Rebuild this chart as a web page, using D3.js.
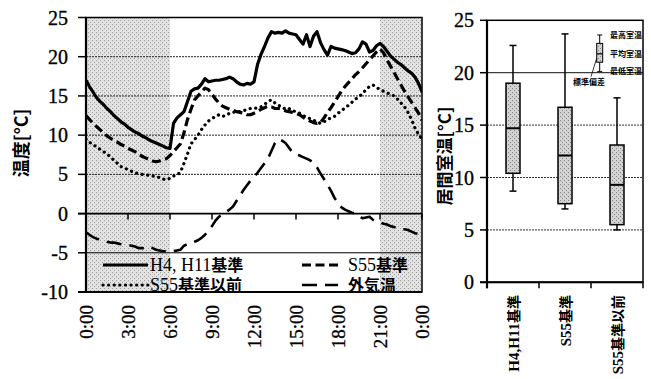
<!DOCTYPE html>
<html><head><meta charset="utf-8">
<script src="https://cdn.jsdelivr.net/npm/d3@7"></script>
<style>body{margin:0;background:#fff}svg{display:block}</style>
</head><body>
<svg id="c" width="651" height="379"></svg>
<script>
// ---------- data ----------
const hours = d3.range(97).map(i => i * 0.25); // 15-minute time grid, 0:00..24:00
const h4h11 = [17.0,16.2,15.5,14.8,14.3,13.9,13.4,13.0,12.5,12.1,11.7,11.4,11.0,10.7,10.4,10.2,9.9,9.7,9.4,9.2,9.0,8.8,8.6,8.4,8.3,
  11.5,12.2,12.6,13.0,14.3,15.6,15.9,16.0,16.5,17.2,16.8,16.9,17.0,17.0,17.1,17.2,17.4,17.2,16.8,16.5,16.4,16.6,16.5,16.8,
  19.0,20.3,21.3,22.4,23.2,23.0,23.1,23.0,23.3,23.0,22.9,22.8,22.2,21.6,22.8,21.3,22.6,23.2,21.8,20.9,20.2,21.3,21.1,21.0,
  20.9,20.8,20.6,20.4,20.5,21.0,21.9,21.6,20.6,20.8,21.4,21.7,21.3,20.7,20.1,19.7,19.3,19.0,18.6,18.2,17.9,17.4,16.6,15.5];
const s55 = [12.5,12.0,11.5,11.1,10.7,10.3,9.9,9.6,9.3,9.1,8.8,8.6,8.3,8.1,7.9,7.6,7.3,7.1,6.9,6.7,6.6,6.7,6.9,7.0,7.4,
  7.9,8.4,8.9,10.3,12.0,13.3,14.5,15.0,15.5,16.0,15.8,15.2,14.6,14.1,13.7,13.5,13.3,13.2,13.0,12.9,12.8,12.6,12.6,12.8,
  13.0,13.3,13.5,13.7,13.6,13.4,13.4,13.3,13.1,13.0,12.9,12.8,12.6,12.3,12.0,11.8,11.6,11.5,11.6,12.2,12.9,13.5,14.2,14.9,
  15.6,16.2,16.7,17.2,17.7,18.1,18.6,19.1,19.6,20.1,20.6,21.0,20.5,19.6,18.8,18.0,17.2,16.4,15.6,14.9,14.2,13.5,12.8,11.9];
const s55Before = [9.5,9.1,8.8,8.5,8.2,7.9,7.6,7.2,6.8,6.4,6.0,5.8,5.6,5.4,5.2,5.1,5.0,4.9,4.9,4.8,4.7,4.6,4.4,4.3,4.5,
  4.8,4.9,5.3,6.4,7.6,8.9,9.4,10.0,10.7,11.3,11.8,12.1,12.4,12.6,12.4,12.5,12.8,12.9,13.0,13.0,13.1,13.3,13.4,13.4,
  13.5,13.6,13.9,14.3,14.5,14.1,13.8,13.6,13.3,13.4,13.1,13.0,12.8,12.5,12.3,12.1,11.9,11.7,11.5,11.7,12.0,12.2,12.4,12.8,
  13.1,13.5,13.8,14.2,14.6,14.9,15.3,15.8,16.2,16.4,16.1,15.8,15.6,15.4,15.2,15.0,14.6,14.1,13.6,12.9,12.0,10.9,10.1,9.5];
const outdoor = [-2.4,-2.7,-3.0,-3.2,-3.3,-3.4,-3.6,-3.7,-3.7,-3.8,-3.9,-4.0,-4.0,-4.1,-4.2,-4.4,-4.4,-4.5,-4.3,-4.4,-4.6,-4.7,-4.8,-4.8,-4.8,
  -4.8,-4.7,-4.6,-4.1,-3.9,-3.8,-3.6,-3.4,-3.1,-2.7,-2.2,-1.6,-0.9,-0.4,-0.1,0.2,0.5,0.9,1.6,2.3,3.0,3.6,4.2,4.7,
  5.2,5.8,6.4,7.0,8.0,9.0,9.5,9.3,9.0,8.4,7.8,7.6,7.4,7.2,7.0,6.8,6.5,5.9,5.1,4.4,3.7,2.9,2.0,1.3,
  0.8,0.5,0.3,0.1,0.0,-0.3,-0.6,-0.5,-0.4,-0.8,-1.0,-1.1,-1.3,-1.4,-1.6,-1.7,-1.9,-2.0,-2.0,-2.1,-2.3,-2.5,-2.6,-2.7];
const seriesNames = ["H4, H11基準", "S55基準", "S55基準以前", "外気温"];
const hourTicks = [0, 3, 6, 9, 12, 15, 18, 21, 24];
const hourLabels = ["0:00","3:00","6:00","9:00","12:00","15:00","18:00","21:00","0:00"];
const leftYTicks = [25, 20, 15, 10, 5, 0, -5, -10];
const shadedPeriods = [[0, 6], [21, 24]];

const boxCategories = ["H4,H11基準", "S55基準", "S55基準以前"];
const boxMax  = [22.6, 23.7, 17.6];
const boxUpper = [19.0, 16.7, 13.1];
const boxMean = [14.7, 12.1, 9.3];
const boxLower = [10.4, 7.5, 5.5];
const boxMin  = [8.7, 7.0, 5.0];
const rightYTicks = [0, 5, 10, 15, 20, 25];
const keyValues = [23.6, 22.8, 21.8, 21.0, 20.1]; // inset key glyph: max, upper, mean, lower, min
const keyLabels = ["最高室温", "平均室温", "最低室温", "標準偏差"];

// ---------- helpers ----------
const svg = d3.select("#c");
const isCJK = ch => /[\u3000-\u9fff\uff00-\uffef]/.test(ch);
function mixed(sel, str, o) {
  const runs = [];
  for (const ch of str) {
    const c = isCJK(ch);
    if (runs.length && runs[runs.length - 1].c === c) runs[runs.length - 1].t += ch;
    else runs.push({ c, t: ch });
  }
  runs.forEach(r => sel.append("tspan").text(r.t)
    .attr("font-family", r.c ? "'Noto Sans CJK JP'" : "'Liberation Serif'")
    .attr("font-weight", r.c ? "bold" : (o.latinWeight || "normal"))
    .attr("font-size", r.c ? o.cjk : o.latin));
  return sel;
}
const defs = svg.append("defs");
function stipple(id, base, dot) {
  const p = defs.append("pattern").attr("id", id).attr("width", 4).attr("height", 4).attr("patternUnits", "userSpaceOnUse");
  p.append("rect").attr("width", 4).attr("height", 4).attr("fill", base);
  p.append("rect").attr("x", 0).attr("y", 0).attr("width", 1).attr("height", 1).attr("fill", dot);
  p.append("rect").attr("x", 2).attr("y", 2).attr("width", 1).attr("height", 1).attr("fill", dot);
}
stipple("shade", "#e2e2e2", "#9a9a9a");
stipple("boxfill", "#d2d2d2", "#858585");

// ---------- left chart ----------
const L = { x0: 86, x1: 422, y0: 17.5, y1: 292 };
const x = d3.scaleLinear().domain([0, 24]).range([L.x0, L.x1]);
const y = d3.scaleLinear().domain([-10, 25]).range([L.y1, L.y0]);

svg.append("g").selectAll("rect").data(shadedPeriods).join("rect")
  .attr("x", d => x(d[0])).attr("width", d => x(d[1]) - x(d[0]))
  .attr("y", L.y0).attr("height", L.y1 - L.y0).attr("fill", "url(#shade)");

// grid
svg.append("g").selectAll("line").data(leftYTicks.filter(v => v !== 25 && v !== 0 && v !== -10)).join("line")
  .attr("x1", L.x0).attr("x2", L.x1).attr("y1", d => y(d)).attr("y2", d => y(d))
  .attr("stroke", d => d === -5 ? "#000" : "#222").attr("stroke-width", 1)
  .attr("stroke-dasharray", d => d === -5 ? null : "2,1");

// y ticks + labels
svg.append("g").selectAll("line").data(leftYTicks).join("line")
  .attr("x1", L.x0 - 8).attr("x2", L.x0).attr("y1", d => y(d)).attr("y2", d => y(d))
  .attr("stroke", "#000").attr("stroke-width", 1.5);
svg.append("g").selectAll("text").data(leftYTicks).join("text")
  .attr("x", 68).attr("y", d => y(d)).attr("dy", "0.35em").attr("text-anchor", "end")
  .attr("font-family", "'Liberation Serif'").attr("font-size", 20)
  .attr("stroke", "#000").attr("stroke-width", 0.35).text(d => d);

// zero axis with ticks
svg.append("line").attr("x1", L.x0 - 8).attr("x2", L.x1).attr("y1", y(0)).attr("y2", y(0))
  .attr("stroke", "#000").attr("stroke-width", 1.8);
svg.append("g").selectAll("line").data(hourTicks).join("line")
  .attr("x1", d => x(d)).attr("x2", d => x(d)).attr("y1", y(0)).attr("y2", y(0) + 6)
  .attr("stroke", "#000").attr("stroke-width", 1.5);

// frame
svg.append("rect").attr("x", L.x0).attr("y", L.y0).attr("width", L.x1 - L.x0).attr("height", L.y1 - L.y0)
  .attr("fill", "none").attr("stroke", "#000").attr("stroke-width", 1.5);
svg.append("line").attr("x1", L.x0).attr("x2", L.x0).attr("y1", L.y0).attr("y2", L.y1)
  .attr("stroke", "#000").attr("stroke-width", 2.2);
svg.append("line").attr("x1", L.x0 - 8).attr("x2", L.x1).attr("y1", L.y1).attr("y2", L.y1)
  .attr("stroke", "#000").attr("stroke-width", 2);

// x labels
svg.append("g").selectAll("text").data(hourTicks).join("text")
  .attr("transform", d => `translate(${x(d)},305) rotate(-90)`)
  .attr("dy", "0.35em").attr("text-anchor", "end")
  .attr("font-family", "'Liberation Serif'").attr("font-size", 19)
  .attr("stroke", "#000").attr("stroke-width", 0.3)
  .text((d, i) => hourLabels[i]);

// lines
defs.append("clipPath").attr("id", "clipL").append("rect")
  .attr("x", L.x0).attr("y", L.y0).attr("width", L.x1 - L.x0).attr("height", L.y1 - L.y0);
const line = d3.line().x((d, i) => x(hours[i])).y(d => y(d)).curve(d3.curveLinear);
const styles = [
  { data: h4h11, w: 3.2, dash: null, cap: "butt" },
  { data: s55, w: 3.2, dash: "9,4.5", cap: "butt" },
  { data: s55Before, w: 3.2, dash: "0.1,5.5", cap: "round" },
  { data: outdoor, w: 2.6, dash: "15,8", cap: "butt" }
];
const gl = svg.append("g").attr("clip-path", "url(#clipL)");
styles.forEach(s => gl.append("path").datum(s.data).attr("d", line)
  .attr("fill", "none").attr("stroke", "#000").attr("stroke-width", s.w)
  .attr("stroke-dasharray", s.dash).attr("stroke-linecap", s.cap).attr("stroke-linejoin", "round"));

// legend
const legendPos = [[103, 265], [302, 265], [103, 285], [302, 285]];
legendPos.forEach(([lx, ly], k) => {
  const sw = k % 2 === 0 ? 45 : 36;
  svg.append("line").attr("x1", lx).attr("x2", lx + sw).attr("y1", ly).attr("y2", ly)
    .attr("stroke", "#000").attr("stroke-width", styles[k].w)
    .attr("stroke-dasharray", styles[k].dash).attr("stroke-linecap", styles[k].cap);
  const t = svg.append("text").attr("x", k % 2 === 0 ? 150 : 348).attr("y", ly + 6);
  mixed(t, seriesNames[k], { latin: 18, cjk: 16 });
});

// y title
svg.append("text").attr("transform", "translate(22,143) rotate(-90)")
  .attr("dy", "0.35em").attr("text-anchor", "middle")
  .attr("font-family", "'Noto Sans CJK JP'").attr("font-weight", "bold").attr("font-size", 18)
  .text("温度[°C]");

// ---------- right chart ----------
const R = { x0: 487, x1: 643, y0: 20.3, y1: 282.3 };
const bx = d3.scaleBand().domain(boxCategories).range([R.x0, R.x1]);
const by = d3.scaleLinear().domain([0, 25]).range([R.y1, R.y0]);

svg.append("g").selectAll("line").data(rightYTicks.filter(v => v > 0 && v < 25)).join("line")
  .attr("x1", R.x0).attr("x2", R.x1).attr("y1", d => by(d)).attr("y2", d => by(d))
  .attr("stroke", d => d === 20 ? "#111" : "#333").attr("stroke-width", 1)
  .attr("stroke-dasharray", d => d === 20 ? null : "2,1");
svg.append("g").selectAll("line").data(rightYTicks).join("line")
  .attr("x1", R.x0 - 7).attr("x2", R.x0).attr("y1", d => by(d)).attr("y2", d => by(d))
  .attr("stroke", "#000").attr("stroke-width", 1.5);
svg.append("g").selectAll("text").data(rightYTicks).join("text")
  .attr("x", 474).attr("y", d => by(d)).attr("dy", "0.35em").attr("text-anchor", "end")
  .attr("font-family", "'Liberation Serif'").attr("font-size", 20)
  .attr("stroke", "#000").attr("stroke-width", 0.35).text(d => d);
svg.append("rect").attr("x", R.x0).attr("y", R.y0).attr("width", R.x1 - R.x0).attr("height", R.y1 - R.y0)
  .attr("fill", "none").attr("stroke", "#000").attr("stroke-width", 1.5);
svg.append("line").attr("x1", R.x0).attr("x2", R.x0).attr("y1", R.y0).attr("y2", R.y1 + 6)
  .attr("stroke", "#000").attr("stroke-width", 2.2);
svg.append("line").attr("x1", R.x0 - 7).attr("x2", R.x1).attr("y1", R.y1).attr("y2", R.y1)
  .attr("stroke", "#000").attr("stroke-width", 2);
const bounds = boxCategories.map(c => bx(c)).concat([R.x1]);
svg.append("g").selectAll("line").data(bounds).join("line")
  .attr("x1", d => d).attr("x2", d => d).attr("y1", R.y1).attr("y2", R.y1 + 6)
  .attr("stroke", "#000").attr("stroke-width", 1.5);

const bw = 14, cap = 7;
const gb = svg.append("g");
boxCategories.forEach((c, i) => {
  const cx = bx(c) + bx.bandwidth() / 2;
  gb.append("line").attr("x1", cx).attr("x2", cx).attr("y1", by(boxMax[i])).attr("y2", by(boxMin[i]))
    .attr("stroke", "#000").attr("stroke-width", 1.5);
  [boxMax[i], boxMin[i]].forEach(v => gb.append("line").attr("x1", cx - cap / 2).attr("x2", cx + cap / 2)
    .attr("y1", by(v)).attr("y2", by(v)).attr("stroke", "#000").attr("stroke-width", 1.5));
  gb.append("rect").attr("x", cx - bw / 2).attr("width", bw)
    .attr("y", by(boxUpper[i])).attr("height", by(boxLower[i]) - by(boxUpper[i]))
    .attr("fill", "url(#boxfill)").attr("stroke", "#000").attr("stroke-width", 1.5);
  gb.append("line").attr("x1", cx - bw / 2).attr("x2", cx + bw / 2)
    .attr("y1", by(boxMean[i])).attr("y2", by(boxMean[i])).attr("stroke", "#000").attr("stroke-width", 2);
});

// category labels
svg.append("g").selectAll("text").data(boxCategories).join("text")
  .attr("transform", d => `translate(${bx(d) + bx.bandwidth() / 2},295) rotate(-90)`)
  .attr("dy", "0.35em").attr("text-anchor", "end")
  .each(function (d) { mixed(d3.select(this), d, { latin: 15, cjk: 14, latinWeight: "bold" }); });

// y title
svg.append("text").attr("transform", "translate(445,156) rotate(-90)")
  .attr("dy", "0.35em").attr("text-anchor", "middle")
  .attr("font-family", "'Noto Sans CJK JP'").attr("font-weight", "bold").attr("font-size", 17)
  .text("居間室温[°C]");

// inset key
const kx = 599.7, kw = 6;
const gk = svg.append("g");
gk.append("line").attr("x1", kx).attr("x2", kx).attr("y1", by(keyValues[0])).attr("y2", by(keyValues[4]))
  .attr("stroke", "#000").attr("stroke-width", 1);
[keyValues[0], keyValues[4]].forEach(v => gk.append("line").attr("x1", kx - 2.5).attr("x2", kx + 2.5)
  .attr("y1", by(v)).attr("y2", by(v)).attr("stroke", "#000").attr("stroke-width", 1));
gk.append("rect").attr("x", kx - kw / 2).attr("width", kw).attr("y", by(keyValues[1]))
  .attr("height", by(keyValues[3]) - by(keyValues[1])).attr("fill", "url(#boxfill)").attr("stroke", "#000").attr("stroke-width", 1);
gk.append("line").attr("x1", kx - kw / 2).attr("x2", kx + kw / 2).attr("y1", by(keyValues[2])).attr("y2", by(keyValues[2]))
  .attr("stroke", "#000").attr("stroke-width", 1.2);
[keyValues[0], keyValues[2], keyValues[4]].forEach((v, i) => gk.append("text")
  .attr("x", 610).attr("y", by(v)).attr("dy", "0.35em")
  .attr("font-family", "'Noto Sans CJK JP'").attr("font-weight", "bold").attr("font-size", 8).text(keyLabels[i]));
gk.append("text").attr("x", 589).attr("y", by(keyValues[4]) + 10.5).attr("dy", "0.35em").attr("text-anchor", "middle")
  .attr("font-family", "'Noto Sans CJK JP'").attr("font-weight", "bold").attr("font-size", 8).text(keyLabels[3]);
gk.append("line").attr("x1", 591).attr("x2", kx - kw / 2).attr("y1", by(keyValues[4]) + 5).attr("y2", by(keyValues[3]) - 4)
  .attr("stroke", "#000").attr("stroke-width", 0.8);
</script>
</body></html>
